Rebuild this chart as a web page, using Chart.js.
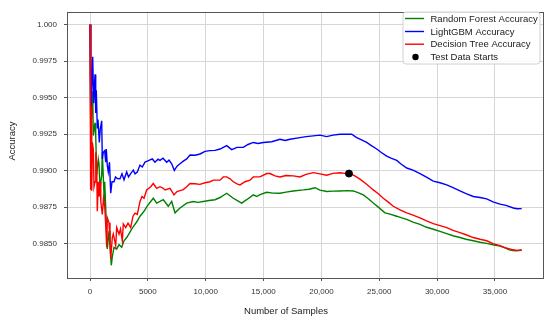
<!DOCTYPE html>
<html><head><meta charset="utf-8">
<script src="https://cdn.jsdelivr.net/npm/chart.js@4.4.1/dist/chart.umd.min.js"></script>
<style>html,body{margin:0;padding:0;background:#fff;}canvas{display:block;}</style>
</head><body>
<canvas id="c" width="550" height="322"></canvas>
<script>
// ---- Data ----
const lgbSamples = [0,70,233,320,432,493,544,631,691,804,890,1011,1063,1149,1270,1357,1409,1495,1581,1685,1789,1901,2074,2204,2359,2593,2765,2938,3172,3327,3517,3742,3889,4088,4321,4520,4753,5099,5384,5617,5877,6049,6309,6628,6827,7060,7285,7519,7778,8063,8357,8642,9074,9506,9938,10370,10803,11235,11814,12246,12704,13248,13654,14112,14519,14977,15703,16420,16852,17284,18148,18667,19298,19877,20456,21000,21605,22124,22616,23048,23420,23913,24284,24777,25148,25641,26012,26505,26877,27369,27914,28519,29037,29668,30247,30826,31370,31975,32494,33125,33704,34283,34827,35432,35951,36582,36901,37308];
const lgbAccuracy = [1.00000,0.99361,0.99780,0.99462,0.99659,0.99395,0.99551,0.99294,0.99350,0.99193,0.99287,0.99341,0.99080,0.99126,0.99137,0.99058,0.99148,0.99036,0.98991,0.99058,0.98845,0.98924,0.98924,0.98957,0.98946,0.98944,0.98978,0.98937,0.98991,0.98957,0.98980,0.99004,0.98978,0.98991,0.99038,0.99025,0.99058,0.99070,0.99080,0.99058,0.99078,0.99070,0.99085,0.99058,0.99072,0.99047,0.99002,0.99031,0.99047,0.99065,0.99080,0.99107,0.99105,0.99114,0.99132,0.99137,0.99139,0.99148,0.99171,0.99144,0.99159,0.99159,0.99179,0.99193,0.99186,0.99193,0.99198,0.99215,0.99206,0.99215,0.99226,0.99233,0.99238,0.99243,0.99233,0.99243,0.99249,0.99250,0.99249,0.99226,0.99213,0.99193,0.99173,0.99148,0.99126,0.99099,0.99085,0.99070,0.99045,0.99018,0.99004,0.98980,0.98957,0.98928,0.98917,0.98902,0.98883,0.98861,0.98843,0.98823,0.98816,0.98807,0.98786,0.98771,0.98762,0.98744,0.98739,0.98740];

const dtSamples = [0,30,80,120,150,200,285,346,432,501,579,631,717,795,864,933,1063,1167,1270,1340,1443,1495,1642,1728,1789,1927,2014,2221,2307,2506,2636,2791,2878,3085,3284,3517,3716,3889,4088,4321,4494,4667,4900,5246,5470,5764,6049,6335,6482,6914,7259,7519,7778,8063,8357,8642,9074,9506,9938,10370,10656,11235,11520,11814,12099,12384,12704,12963,13395,13827,14112,14691,15270,15556,15988,16420,16938,17569,18148,18667,19298,19877,20456,21000,21605,22037,22383,22815,23333,23852,24483,24889,25347,25753,26211,26790,27369,27914,28519,29037,29668,30247,30826,31370,31975,32494,33125,33704,34283,34827,35432,35951,36582,36901,37308];
const dtAccuracy = [1.00000,0.98870,0.99126,0.99442,0.98863,0.99193,0.99146,0.98890,0.98924,0.99126,0.99038,0.98722,0.98924,0.98823,0.98924,0.98789,0.98700,0.98811,0.98756,0.98655,0.98475,0.98677,0.98643,0.98520,0.98397,0.98542,0.98567,0.98487,0.98610,0.98565,0.98601,0.98520,0.98635,0.98610,0.98641,0.98610,0.98688,0.98709,0.98700,0.98789,0.98823,0.98811,0.98868,0.98890,0.98912,0.98879,0.98890,0.98879,0.98868,0.98879,0.98834,0.98857,0.98863,0.98870,0.98890,0.98912,0.98910,0.98906,0.98917,0.98924,0.98935,0.98935,0.98957,0.98957,0.98944,0.98924,0.98910,0.98902,0.98924,0.98935,0.98957,0.98957,0.98980,0.98980,0.98964,0.98957,0.98967,0.98964,0.98957,0.98974,0.98986,0.98978,0.98969,0.98981,0.98986,0.98981,0.98980,0.98967,0.98942,0.98910,0.98868,0.98843,0.98811,0.98786,0.98756,0.98732,0.98711,0.98695,0.98677,0.98658,0.98637,0.98624,0.98610,0.98591,0.98576,0.98561,0.98542,0.98530,0.98520,0.98500,0.98487,0.98470,0.98458,0.98453,0.98458];

const rfSamples = [0,60,100,233,285,432,493,579,717,778,864,1011,1063,1236,1270,1443,1495,1642,1728,1841,1944,2074,2307,2506,2740,2938,3172,3517,3716,4088,4321,4667,4926,5246,5470,5764,6049,6335,6767,7060,7346,7778,8357,8927,9333,9791,10284,10803,11235,11814,12384,12704,13110,13542,14112,14406,14691,15270,15815,16420,16938,17569,18433,18926,19444,19877,20456,21000,21605,22210,22754,23161,23619,24025,24483,24889,25494,25926,26505,26877,27369,27914,28519,29037,29668,30247,30826,31370,31975,32494,33125,33704,34283,34827,35432,35864,36296,36728,37308];
const rfAccuracy = [1.00000,0.99260,0.99327,0.99543,0.99240,0.99327,0.99240,0.98971,0.99078,0.99047,0.98877,0.98971,0.99126,0.98789,0.98924,0.98567,0.98464,0.98587,0.98487,0.98352,0.98419,0.98475,0.98464,0.98493,0.98475,0.98520,0.98542,0.98587,0.98614,0.98655,0.98688,0.98722,0.98756,0.98789,0.98811,0.98778,0.98789,0.98801,0.98756,0.98789,0.98711,0.98744,0.98778,0.98789,0.98783,0.98789,0.98796,0.98801,0.98816,0.98845,0.98811,0.98796,0.98778,0.98801,0.98834,0.98823,0.98836,0.98852,0.98846,0.98845,0.98853,0.98861,0.98868,0.98873,0.98883,0.98867,0.98857,0.98860,0.98861,0.98863,0.98861,0.98850,0.98834,0.98809,0.98778,0.98752,0.98711,0.98702,0.98688,0.98678,0.98666,0.98648,0.98632,0.98614,0.98599,0.98584,0.98569,0.98554,0.98542,0.98530,0.98520,0.98510,0.98502,0.98493,0.98483,0.98471,0.98456,0.98451,0.98454];

const testStartSample = [22380];
const testStartAccuracy = [0.98980];

const seriesLabels = ['Random Forest Accuracy','LightGBM Accuracy','Decision Tree Accuracy','Test Data Starts'];
const xTickValues = [0,5000,10000,15000,20000,25000,30000,35000];
const xTickLabels = ['0','5000','10,000','15,000','20,000','25,000','30,000','35,000'];
const yTickValues = [0.985,0.9875,0.99,0.9925,0.995,0.9975,1.0];
const yTickLabels = ['0.9850','0.9875','0.9900','0.9925','0.9950','0.9975','1.000'];
const xTitle = 'Number of Samples';
const yTitle = 'Accuracy';

// ---- build ----
const pts = (xs, ys) => xs.map((x, i) => ({x, y: ys[i]}));
const FONT = '"Liberation Sans", Arial, sans-serif';

const datasets = [
  {label: seriesLabels[0], data: pts(rfSamples, rfAccuracy), borderColor: '#008000', order: 3},
  {label: seriesLabels[1], data: pts(lgbSamples, lgbAccuracy), borderColor: '#0000ff', order: 2},
  {label: seriesLabels[2], data: pts(dtSamples, dtAccuracy), borderColor: '#ff0000', order: 1},
].map(d => Object.assign(d, {type: 'line', borderWidth: 1.4, pointRadius: 0, tension: 0, fill: false}));
datasets.push({label: seriesLabels[3], type: 'scatter', data: pts(testStartSample, testStartAccuracy),
  backgroundColor: '#000', borderColor: '#000', pointRadius: 3.5, order: 0});

const decor = {
  id: 'decor',
  afterDraw(chart) {
    const {ctx, chartArea: a} = chart;
    ctx.save();
    // axes frame
    ctx.strokeStyle = '#555'; ctx.lineWidth = 1;
    ctx.strokeRect(Math.round(a.left) + 0.5, Math.round(a.top) + 0.5, Math.round(a.right - a.left) - 1, Math.round(a.bottom - a.top));
    // axis titles
    ctx.fillStyle = '#1a1a1a';
    ctx.font = '9.5px ' + FONT;
    ctx.textAlign = 'center'; ctx.textBaseline = 'middle';
    ctx.fillText(xTitle, 286, 311);
    ctx.translate(12, 141); ctx.rotate(-Math.PI / 2);
    ctx.fillText(yTitle, 0, 0);
    ctx.restore();
    // legend
    ctx.save();
    const bx = 403, by = 12, bw = 137, bh = 52, r = 3;
    ctx.beginPath();
    ctx.moveTo(bx + r, by); ctx.lineTo(bx + bw - r, by); ctx.quadraticCurveTo(bx + bw, by, bx + bw, by + r);
    ctx.lineTo(bx + bw, by + bh - r); ctx.quadraticCurveTo(bx + bw, by + bh, bx + bw - r, by + bh);
    ctx.lineTo(bx + r, by + bh); ctx.quadraticCurveTo(bx, by + bh, bx, by + bh - r);
    ctx.lineTo(bx, by + r); ctx.quadraticCurveTo(bx, by, bx + r, by);
    ctx.closePath();
    ctx.fillStyle = 'rgba(255,255,255,0.85)'; ctx.fill();
    ctx.strokeStyle = '#d0d0d0'; ctx.lineWidth = 1; ctx.stroke();
    ctx.font = '9.5px ' + FONT; ctx.textAlign = 'left'; ctx.textBaseline = 'middle';
    const rows = [18.5, 31.5, 44.2, 57];
    chart.data.datasets.forEach((ds, i) => {
      const y = rows[i];
      if (ds.type === 'scatter') {
        ctx.fillStyle = ds.backgroundColor;
        ctx.beginPath(); ctx.arc(415.5, y, 3.2, 0, Math.PI * 2); ctx.fill();
      } else {
        ctx.strokeStyle = ds.borderColor; ctx.lineWidth = 1.4;
        ctx.beginPath(); ctx.moveTo(405, y); ctx.lineTo(424, y); ctx.stroke();
      }
      ctx.fillStyle = '#1a1a1a';
      ctx.fillText(ds.label, 430.5, y + 0.5);
    });
    ctx.restore();
  }
};

new Chart(document.getElementById('c'), {
  data: {datasets},
  options: {
    responsive: false, animation: false, devicePixelRatio: 1,
    layout: {padding: {top: 7, right: 6, left: 0, bottom: 0}},
    plugins: {legend: {display: false}, tooltip: {enabled: false}},
    scales: {
      x: {
        type: 'linear', min: -1988, max: 39235,
        afterBuildTicks: s => { s.ticks = xTickValues.map(v => ({value: v})); },
        afterFit: s => { s.height = 44; },
        ticks: {callback: (v, i) => xTickLabels[i], font: {family: FONT, size: 8}, color: '#333', padding: 6, maxRotation: 0, autoSkip: false},
        grid: {color: '#d6d6d6', lineWidth: 1, drawTicks: true, tickLength: 3, tickColor: '#555'},
        border: {display: false}
      },
      y: {
        type: 'linear', min: 0.98265, max: 1.000874,
        afterBuildTicks: s => { s.ticks = yTickValues.map(v => ({value: v})); },
        afterFit: s => { s.width = 67; },
        ticks: {callback: (v, i) => yTickLabels[i], font: {family: FONT, size: 8}, color: '#333', padding: 7, autoSkip: false},
        grid: {color: '#d6d6d6', lineWidth: 1, drawTicks: true, tickLength: 3, tickColor: '#555'},
        border: {display: false}
      }
    }
  },
  plugins: [decor]
});
</script>
</body></html>
